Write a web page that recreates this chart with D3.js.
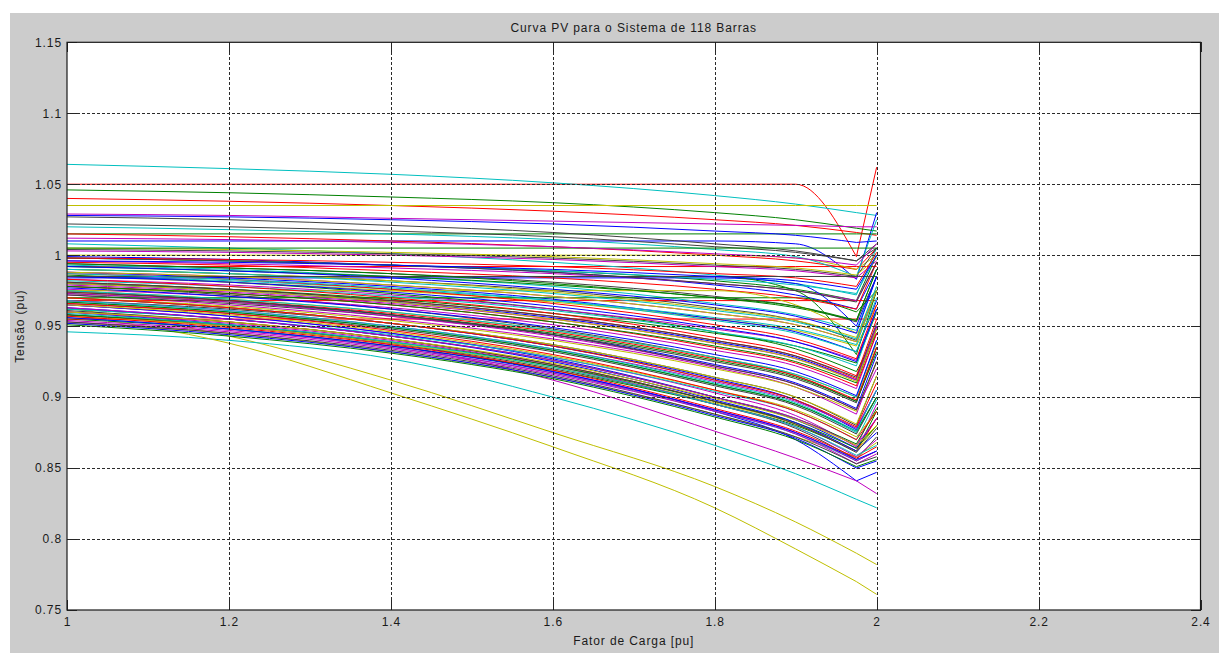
<!DOCTYPE html>
<html>
<head>
<meta charset="utf-8">
<script src="https://cdn.jsdelivr.net/npm/d3@7"></script>
<style>
  html, body { margin: 0; padding: 0; background: #ffffff; }
  svg { display: block; }
  text { font-family: "Liberation Sans", Arial, sans-serif; fill: #1a1a1a; }
</style>
</head>
<body>
<svg id="chart" width="1219" height="653"></svg>
<script>
// Load factor (pu) at which each bus voltage was recorded
const loadFactor = [1.0, 1.2, 1.4, 1.6, 1.8, 1.9, 1.975, 2.0];

// Bus voltages (pu) along the PV curve, one row per bus, in plotting order
const busVoltage = [
  [0.999, 0.997, 0.993, 0.988, 0.979, 0.972, 0.962, 0.990],
  [0.986, 0.981, 0.973, 0.962, 0.946, 0.934, 0.918, 0.945],
  [1.050, 1.050, 1.050, 1.050, 1.050, 1.050, 0.999, 1.062],
  [1.064, 1.061, 1.057, 1.051, 1.042, 1.036, 1.030, 1.028],
  [0.972, 0.965, 0.955, 0.941, 0.921, 0.907, 0.888, 0.925],
  [0.963, 0.943, 0.912, 0.875, 0.837, 0.812, 0.790, 0.782],
  [0.978, 0.972, 0.962, 0.948, 0.928, 0.915, 0.897, 0.935],

  [1.010, 1.010, 1.010, 1.010, 1.010, 1.008, 0.983, 1.030],
  [1.046, 1.044, 1.041, 1.037, 1.030, 1.025, 1.019, 1.017],
  [0.992, 0.992, 0.992, 0.992, 0.992, 0.992, 0.992, 0.992],
  [0.946, 0.940, 0.927, 0.900, 0.866, 0.846, 0.828, 0.822],
  [0.965, 0.957, 0.945, 0.928, 0.903, 0.887, 0.865, 0.895],
  [0.958, 0.938, 0.903, 0.865, 0.822, 0.793, 0.770, 0.761],
  [0.990, 0.987, 0.982, 0.975, 0.963, 0.954, 0.940, 0.975],

  [0.960, 0.951, 0.938, 0.918, 0.890, 0.870, 0.841, 0.847],
  [0.998, 0.996, 0.993, 0.989, 0.982, 0.976, 0.968, 1.000],
  [1.040, 1.038, 1.035, 1.031, 1.025, 1.021, 1.016, 1.014],
  [1.008, 1.005, 1.001, 0.995, 0.986, 0.980, 0.972, 1.005],
  [0.958, 0.950, 0.937, 0.912, 0.876, 0.857, 0.841, 0.832],
  [1.035, 1.035, 1.035, 1.035, 1.035, 1.035, 1.035, 1.035],
  [0.968, 0.962, 0.952, 0.937, 0.914, 0.900, 0.880, 0.915],

  [0.975, 0.968, 0.958, 0.944, 0.923, 0.910, 0.892, 0.930],
  [0.955, 0.948, 0.936, 0.919, 0.895, 0.880, 0.862, 0.890],
  [0.968, 0.968, 0.968, 0.968, 0.968, 0.968, 0.968, 0.968],
  [0.993, 0.990, 0.985, 0.978, 0.966, 0.958, 0.947, 0.985],
  [1.029, 1.028, 1.026, 1.024, 1.022, 1.021, 1.020, 1.020],
  [0.985, 0.981, 0.975, 0.967, 0.955, 0.947, 0.936, 0.965],
  [0.958, 0.950, 0.938, 0.920, 0.895, 0.878, 0.856, 0.872],

  [0.988, 0.984, 0.978, 0.969, 0.955, 0.946, 0.932, 0.968],
  [1.015, 1.015, 1.015, 1.015, 1.015, 1.015, 1.015, 1.015],
  [0.981, 0.976, 0.968, 0.957, 0.940, 0.929, 0.913, 0.950],
  [0.970, 0.963, 0.952, 0.936, 0.912, 0.898, 0.878, 0.905],
  [0.996, 0.994, 0.991, 0.987, 0.980, 0.975, 0.968, 0.995],
  [0.952, 0.945, 0.932, 0.914, 0.888, 0.872, 0.858, 0.868],
  [1.027, 1.025, 1.021, 1.016, 1.008, 1.003, 0.996, 1.008],

  [0.965, 0.957, 0.945, 0.927, 0.900, 0.884, 0.864, 0.885],
  [0.980, 0.976, 0.969, 0.959, 0.945, 0.936, 0.924, 0.960],
  [1.015, 1.013, 1.010, 1.006, 1.000, 0.996, 0.990, 1.005],
  [0.956, 0.948, 0.935, 0.917, 0.890, 0.874, 0.855, 0.862],
  [0.983, 0.979, 0.972, 0.962, 0.948, 0.939, 0.926, 0.962],
  [1.000, 1.000, 1.000, 1.000, 1.000, 0.998, 0.990, 1.000],
  [0.972, 0.966, 0.957, 0.944, 0.925, 0.913, 0.896, 0.935],

  [1.028, 1.027, 1.025, 1.022, 1.017, 1.014, 1.009, 1.010],
  [0.962, 0.955, 0.943, 0.926, 0.900, 0.885, 0.867, 0.892],
  [0.955, 0.955, 0.955, 0.955, 0.955, 0.955, 0.955, 0.955],
  [0.985, 0.982, 0.976, 0.968, 0.956, 0.948, 0.937, 0.975],
  [0.976, 0.971, 0.963, 0.951, 0.933, 0.922, 0.906, 0.945],
  [0.970, 0.964, 0.954, 0.940, 0.920, 0.907, 0.890, 0.925],
  [0.994, 0.991, 0.987, 0.981, 0.971, 0.964, 0.953, 0.985],

  [0.984, 0.984, 0.984, 0.984, 0.984, 0.980, 0.950, 0.985],
  [0.973, 0.967, 0.958, 0.945, 0.926, 0.914, 0.897, 0.932],
  [0.960, 0.953, 0.941, 0.923, 0.897, 0.881, 0.862, 0.885],
  [1.020, 1.018, 1.015, 1.011, 1.004, 0.999, 0.985, 1.025],
  [0.953, 0.946, 0.934, 0.916, 0.890, 0.874, 0.853, 0.860],
  [0.990, 0.987, 0.982, 0.974, 0.962, 0.954, 0.942, 0.978],
  [1.004, 1.003, 1.001, 0.998, 0.993, 0.990, 0.985, 1.005],

  [0.970, 0.963, 0.952, 0.936, 0.913, 0.898, 0.877, 0.905],
  [0.992, 0.989, 0.985, 0.979, 0.970, 0.963, 0.954, 0.990],
  [0.978, 0.973, 0.965, 0.953, 0.935, 0.924, 0.908, 0.945],
  [0.962, 0.955, 0.944, 0.928, 0.904, 0.890, 0.870, 0.898],
  [1.003, 1.002, 1.000, 0.997, 0.992, 0.989, 0.984, 0.996],
  [0.975, 0.969, 0.960, 0.947, 0.928, 0.916, 0.900, 0.938],
  [0.953, 0.945, 0.933, 0.915, 0.888, 0.872, 0.853, 0.858],

  [0.980, 0.975, 0.967, 0.956, 0.939, 0.928, 0.912, 0.950],
  [0.970, 0.970, 0.970, 0.970, 0.970, 0.970, 0.960, 0.975],
  [0.995, 0.993, 0.989, 0.984, 0.976, 0.970, 0.962, 0.995],
  [0.967, 0.960, 0.949, 0.933, 0.909, 0.895, 0.875, 0.900],
  [0.988, 0.985, 0.979, 0.971, 0.959, 0.951, 0.939, 0.975],
  [0.957, 0.950, 0.938, 0.921, 0.896, 0.881, 0.862, 0.880],
  [1.022, 1.020, 1.017, 1.013, 1.006, 1.002, 0.996, 1.005],

  [0.952, 0.944, 0.932, 0.914, 0.887, 0.871, 0.850, 0.855],
  [0.985, 0.985, 0.985, 0.985, 0.985, 0.975, 0.930, 0.975],
  [0.974, 0.968, 0.959, 0.946, 0.927, 0.915, 0.898, 0.935],
  [0.998, 0.996, 0.993, 0.989, 0.983, 0.979, 0.973, 1.000],
  [0.960, 0.952, 0.940, 0.922, 0.895, 0.879, 0.858, 0.870],
  [0.975, 0.975, 0.975, 0.975, 0.975, 0.965, 0.945, 0.960],
  [0.966, 0.959, 0.948, 0.932, 0.908, 0.894, 0.874, 0.900],

  [0.992, 0.989, 0.984, 0.976, 0.965, 0.957, 0.945, 0.985],
  [0.958, 0.951, 0.939, 0.922, 0.897, 0.882, 0.864, 0.880],
  [0.987, 0.983, 0.976, 0.966, 0.951, 0.941, 0.927, 0.965],
  [0.975, 0.969, 0.960, 0.947, 0.928, 0.916, 0.900, 0.940],
  [0.968, 0.961, 0.950, 0.934, 0.911, 0.897, 0.878, 0.905],
  [1.005, 1.004, 1.002, 0.999, 0.994, 0.991, 0.986, 0.998],
  [0.981, 0.976, 0.968, 0.957, 0.940, 0.929, 0.914, 0.952],

  [0.963, 0.955, 0.943, 0.925, 0.898, 0.882, 0.862, 0.875],
  [0.978, 0.973, 0.965, 0.953, 0.936, 0.925, 0.910, 0.948],
  [0.957, 0.949, 0.937, 0.919, 0.892, 0.876, 0.857, 0.865],
  [0.990, 0.987, 0.981, 0.973, 0.961, 0.953, 0.941, 0.978],
  [0.973, 0.967, 0.957, 0.943, 0.922, 0.909, 0.891, 0.920],
  [0.965, 0.958, 0.946, 0.929, 0.905, 0.891, 0.872, 0.890],
  [0.998, 0.996, 0.993, 0.988, 0.980, 0.975, 0.967, 0.995],

  [0.977, 0.971, 0.962, 0.949, 0.930, 0.918, 0.901, 0.940],
  [1.005, 1.005, 1.005, 1.005, 1.005, 1.005, 1.005, 1.005],
  [0.966, 0.959, 0.947, 0.930, 0.905, 0.890, 0.870, 0.890],
  [0.982, 0.978, 0.971, 0.961, 0.946, 0.936, 0.922, 0.962],
  [0.954, 0.947, 0.935, 0.917, 0.891, 0.875, 0.855, 0.862],
  [0.988, 0.985, 0.979, 0.971, 0.959, 0.951, 0.939, 0.975],
  [0.961, 0.953, 0.941, 0.923, 0.897, 0.881, 0.861, 0.878],

  [0.985, 0.981, 0.974, 0.964, 0.949, 0.939, 0.925, 0.962],
  [0.967, 0.960, 0.949, 0.933, 0.909, 0.895, 0.876, 0.900],
  [0.998, 0.997, 0.995, 0.992, 0.987, 0.984, 0.978, 1.002],
  [0.959, 0.951, 0.939, 0.921, 0.895, 0.879, 0.859, 0.866],
  [0.979, 0.974, 0.966, 0.955, 0.938, 0.927, 0.912, 0.950],
  [0.970, 0.963, 0.952, 0.937, 0.914, 0.900, 0.881, 0.915],
  [0.985, 0.985, 0.985, 0.985, 0.985, 0.985, 0.985, 0.985],

  [0.956, 0.948, 0.936, 0.918, 0.891, 0.875, 0.856, 0.862],
  [0.994, 0.991, 0.987, 0.980, 0.970, 0.964, 0.954, 0.990],
  [0.970, 0.963, 0.952, 0.936, 0.912, 0.898, 0.879, 0.910],
  [0.987, 0.983, 0.977, 0.968, 0.954, 0.945, 0.932, 0.970],
  [0.963, 0.955, 0.943, 0.926, 0.900, 0.885, 0.866, 0.885],
  [0.980, 0.975, 0.967, 0.955, 0.938, 0.927, 0.911, 0.948],
  [0.974, 0.968, 0.958, 0.944, 0.922, 0.909, 0.891, 0.925],

  [0.996, 0.995, 0.993, 0.990, 0.985, 0.982, 0.976, 1.000],
  [0.951, 0.943, 0.931, 0.913, 0.886, 0.870, 0.851, 0.856],
  [0.983, 0.978, 0.970, 0.959, 0.942, 0.931, 0.915, 0.955],
  [0.968, 0.961, 0.950, 0.934, 0.910, 0.896, 0.876, 0.905],
  [1.012, 1.011, 1.009, 1.006, 1.001, 0.998, 0.993, 1.008],
  [0.960, 0.953, 0.941, 0.924, 0.899, 0.884, 0.866, 0.880]
];

// Axis ticks and their labels
const xTicks = [1, 1.2, 1.4, 1.6, 1.8, 2, 2.2, 2.4];
const xTickLabels = ["1", "1.2", "1.4", "1.6", "1.8", "2", "2.2", "2.4"];
const yTicks = [0.75, 0.8, 0.85, 0.9, 0.95, 1, 1.05, 1.1, 1.15];
const yTickLabels = ["0.75", "0.8", "0.85", "0.9", "0.95", "1", "1.05", "1.1", "1.15"];

const chartTitle = "Curva PV para o Sistema de 118 Barras";
const xTitle = "Fator de Carga [pu]";
const yTitle = "Tensão (pu)";

// Classic line colour order: blue, green, red, cyan, magenta, yellow, dark grey
const colorOrder = ["#0000ff", "#008000", "#ff0000", "#00bfbf", "#bf00bf", "#bfbf00", "#404040"];

const svg = d3.select("#chart");
const W = 1219, H = 653;
const plot = { left: 67, right: 1200.5, top: 42.3, bottom: 610 };

// figure background
svg.append("rect").attr("x", 10).attr("y", 13).attr("width", W - 10).attr("height", H - 13)
  .attr("fill", "#cccccc");

const x = d3.scaleLinear().domain([1, 2.4]).range([plot.left, plot.right]);
const y = d3.scaleLinear().domain([0.75, 1.15]).range([plot.bottom, plot.top]);

// axes area
svg.append("rect")
  .attr("x", plot.left).attr("y", plot.top)
  .attr("width", plot.right - plot.left).attr("height", plot.bottom - plot.top)
  .attr("fill", "#ffffff");

svg.append("defs").append("clipPath").attr("id", "plotClip")
  .append("rect")
  .attr("x", plot.left).attr("y", plot.top)
  .attr("width", plot.right - plot.left).attr("height", plot.bottom - plot.top);

// PV curves: smooth upper branch up to the nose, then a straight step past it
const noseIndex = loadFactor.length - 2;
const upperBranch = d3.line()
  .x(d => x(d[0]))
  .y(d => y(d[1]))
  .curve(d3.curveMonotoneX);

function pvPath(values) {
  const pts = values.map((v, i) => [loadFactor[i], v]);
  const smooth = upperBranch(pts.slice(0, noseIndex + 1));
  const last = pts[pts.length - 1];
  return smooth + "L" + x(last[0]) + "," + y(last[1]);
}

svg.append("g").attr("clip-path", "url(#plotClip)")
  .selectAll("path")
  .data(busVoltage)
  .join("path")
  .attr("d", pvPath)
  .attr("fill", "none")
  .attr("stroke", (d, i) => colorOrder[i % colorOrder.length])
  .attr("stroke-width", 1)
  .attr("stroke-linejoin", "round");

// dotted grid
const grid = svg.append("g")
  .attr("stroke", "#2a2a2a")
  .attr("stroke-width", 1)
  .attr("stroke-dasharray", "3,2")
  .attr("shape-rendering", "crispEdges");
grid.selectAll("line.gx")
  .data(xTicks.filter(t => t > 1 && t < 2.4))
  .join("line").attr("class", "gx")
  .attr("x1", d => Math.round(x(d)) + 0.5).attr("x2", d => Math.round(x(d)) + 0.5)
  .attr("y1", plot.top).attr("y2", plot.bottom);
grid.selectAll("line.gy")
  .data(yTicks.filter(t => t > 0.75 && t < 1.15))
  .join("line").attr("class", "gy")
  .attr("y1", d => Math.round(y(d)) + 0.5).attr("y2", d => Math.round(y(d)) + 0.5)
  .attr("x1", plot.left).attr("x2", plot.right);

// axes with inward ticks on all four sides
const tickLen = 10;
function styleAxis(g) {
  g.select(".domain").remove();
  g.selectAll(".tick line").attr("stroke", "#262626").attr("shape-rendering", "crispEdges");
  g.selectAll(".tick text")
    .attr("fill", "#1a1a1a")
    .style("font-size", "12px")
    .style("letter-spacing", "0.9px");
}

svg.append("g")
  .attr("transform", `translate(0,${plot.bottom})`)
  .call(d3.axisBottom(x).tickValues(xTicks)
    .tickFormat((d, i) => xTickLabels[i])
    .tickSizeInner(-tickLen).tickSizeOuter(0).tickPadding(7))
  .call(styleAxis);

svg.append("g")
  .attr("transform", `translate(0,${plot.top})`)
  .call(d3.axisTop(x).tickValues(xTicks).tickFormat("")
    .tickSizeInner(-tickLen).tickSizeOuter(0))
  .call(styleAxis);

svg.append("g")
  .attr("transform", `translate(${plot.left},0)`)
  .call(d3.axisLeft(y).tickValues(yTicks)
    .tickFormat((d, i) => yTickLabels[i])
    .tickSizeInner(-tickLen).tickSizeOuter(0).tickPadding(5))
  .call(styleAxis);

svg.append("g")
  .attr("transform", `translate(${plot.right},0)`)
  .call(d3.axisRight(y).tickValues(yTicks).tickFormat("")
    .tickSizeInner(-tickLen).tickSizeOuter(0))
  .call(styleAxis);

// axes box
svg.append("rect")
  .attr("x", plot.left).attr("y", plot.top)
  .attr("width", plot.right - plot.left).attr("height", plot.bottom - plot.top)
  .attr("fill", "none").attr("stroke", "#1a1a1a").attr("stroke-width", 1.2);

// titles
svg.append("text")
  .attr("x", (plot.left + plot.right) / 2).attr("y", 32)
  .attr("text-anchor", "middle")
  .style("font-size", "12px").style("letter-spacing", "0.9px")
  .text(chartTitle);

svg.append("text")
  .attr("x", (plot.left + plot.right) / 2).attr("y", 645)
  .attr("text-anchor", "middle")
  .style("font-size", "12px").style("letter-spacing", "0.9px")
  .text(xTitle);

svg.append("text")
  .attr("transform", `translate(24,${(plot.top + plot.bottom) / 2}) rotate(-90)`)
  .attr("text-anchor", "middle")
  .style("font-size", "12px").style("letter-spacing", "0.9px")
  .text(yTitle);
</script>
</body>
</html>
